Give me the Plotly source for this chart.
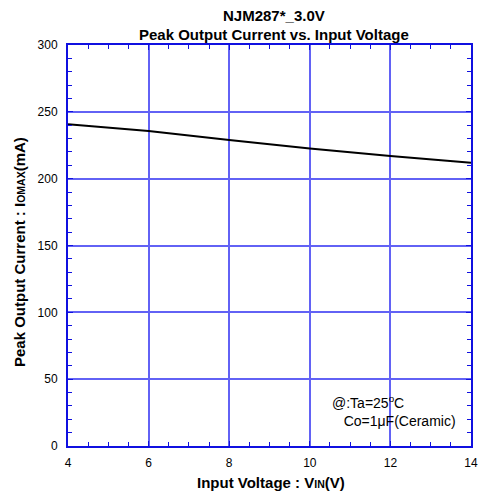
import plotly.graph_objects as go

vin = [4, 6, 8, 10, 12, 14]
iomax = [240.8, 235.6, 228.9, 222.6, 216.9, 211.9]

x_ticks = [4, 6, 8, 10, 12, 14]
y_ticks = [0, 50, 100, 150, 200, 250, 300]

FONT = "Liberation Sans, Arial, sans-serif"
GRID = "#6262f5"
FRAME = "#1010e0"

# plot area on screen: x 68..471, y 45..446
L, T = 68, 45
PW, PH = 403, 401
W, H = 482, 498

fig = go.Figure()
fig.add_trace(go.Scatter(x=vin, y=iomax, mode="lines", line=dict(color="black", width=2),
                         showlegend=False, hoverinfo="skip"))

axis_common = dict(showline=True, linecolor=FRAME, linewidth=2, mirror="allticks",
                   ticks="inside", ticklen=5, tickcolor=FRAME, tickwidth=1.2,
                   showgrid=True, gridcolor=GRID, gridwidth=1.5, zeroline=False,
                   ticklabeloverflow="allow",
                   tickfont=dict(family=FONT, size=12, color="black"))

fig.update_xaxes(range=[4, 14], tickvals=x_ticks, ticktext=[str(v) for v in x_ticks],
                 minor=dict(dtick=0.5, ticks="inside", ticklen=4, tickcolor=FRAME, tickwidth=1.2, showgrid=False),
                 ticklabelstandoff=5,
                 **axis_common)
fig.update_yaxes(range=[0, 300], tickvals=y_ticks, ticktext=[str(v) for v in y_ticks],
                 minor=dict(dtick=10, ticks="inside", ticklen=4, tickcolor=FRAME, tickwidth=1.2, showgrid=False),
                 ticklabelstandoff=6,
                 **axis_common)

# axis titles
fig.add_annotation(x=(271 - 68) / PW, y=-(482 - 446) / PH, xref="paper", yref="paper",
                   xanchor="center", yanchor="middle", showarrow=False,
                   text="<b>Input Voltage : V<span style='font-size:10.5px'>IN</span>(V)</b>",
                   font=dict(family=FONT, size=15, color="black"))
fig.add_annotation(x=-(68 - 20) / PW, y=(446 - 252) / PH, xref="paper", yref="paper",
                   xanchor="center", yanchor="middle", showarrow=False, textangle=-90,
                   text="<b>Peak Output Current : I<span style='font-size:10.5px'>OMAX</span>(mA)</b>",
                   font=dict(family=FONT, size=15, color="black"))

# title lines
fig.add_annotation(x=(274 - 68) / PW, y=1 + (45 - 15) / PH, xref="paper", yref="paper",
                   xanchor="center", yanchor="middle", showarrow=False,
                   text="<b>NJM287*_3.0V</b>", font=dict(family=FONT, size=15, color="black"))
fig.add_annotation(x=(274 - 68) / PW, y=1 + (45 - 34) / PH, xref="paper", yref="paper",
                   xanchor="center", yanchor="middle", showarrow=False,
                   text="<b>Peak Output Current vs. Input Voltage</b>",
                   font=dict(family=FONT, size=15, color="black"))

# condition note
fig.add_annotation(x=(458 - 68) / PW, y=(446 - 431) / PH, xref="paper", yref="paper",
                   xanchor="right", yanchor="bottom", align="left", showarrow=False,
                   text="@:Ta=25<sup>o</sup>C<br>   Co=1μF(Ceramic)",
                   font=dict(family=FONT, size=14, color="black"))

fig.update_layout(
    width=W, height=H,
    margin=dict(l=L, r=W - L - PW, t=T, b=H - T - PH, autoexpand=False),
    paper_bgcolor="white", plot_bgcolor="white",
)

fig.write_html("out.html", config={"displayModeBar": False},
               post_script="document.body.style.margin='0';document.body.style.overflow='hidden';")
